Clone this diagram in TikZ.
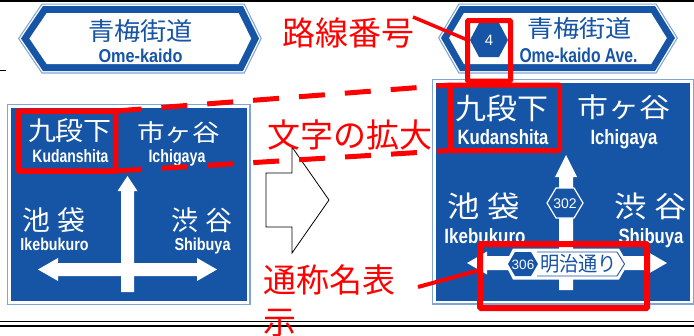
\documentclass[tikz,border=0pt]{standalone}
\usepackage{fontspec}
\usepackage{graphicx}
\newfontfamily\jp{Noto Sans CJK JP}
\newfontfamily\lat{Liberation Sans}
\definecolor{signblue}{HTML}{1654A6}
\definecolor{edgeblue}{HTML}{7FA4D8}
\definecolor{redmark}{HTML}{FF0000}
\newcommand\fitL[3]{\resizebox{#1pt}{#2pt}{\lat\bfseries #3}}
\newcommand\fitJ[3]{\resizebox*{#1pt}{#2pt}{\jp #3}}
\begin{document}
\begin{tikzpicture}[x=1pt,y=-1pt,
  txt/.style={inner sep=0pt,outer sep=0pt},
  btxt/.style={inner sep=0pt,outer sep=0pt,text=signblue},
  wtxt/.style={inner sep=0pt,outer sep=0pt,text=white},
  numtxt/.style={inner sep=0pt,outer sep=0pt,text=white,font=\lat\fontsize{14}{16}\selectfont},
  edgeA/.style={draw=edgeblue,line width=5pt,line join=miter},
  edgeB/.style={draw=white,line width=2.6pt,line join=miter},
  edgeC/.style={draw=edgeblue,line width=8pt},
  edgeD/.style={draw=white,line width=5.6pt},
  redbox/.style={draw=redmark,line width=5pt,rounded corners=1pt},
  redline/.style={draw=redmark,line width=4pt},
  reddash/.style={draw=redmark,line width=5pt,dash pattern=on 26pt off 20pt},
  redlabel/.style={inner sep=0pt,outer sep=0pt,text=redmark,font=\jp\fontsize{33}{40}\selectfont},
]
\useasboundingbox (0,0) rectangle (694,335);
\clip (0,0) rectangle (694,335);

% table rules
\draw[line width=1.8pt] (0,1) -- (694,1);
\draw[line width=1.6pt] (0,321.5) -- (694,321.5);
\draw[line width=1.2pt] (0,326) -- (694,326);
\draw[line width=1pt] (0,70) -- (6,70);

% ---------- left top sign ----------
\path[edgeA] (21,38.5)--(43,6)--(243,6)--(259,38.5)--(243,71)--(43,71)--cycle;
\path[edgeB] (21,38.5)--(43,6)--(243,6)--(259,38.5)--(243,71)--(43,71)--cycle;
\fill[signblue] (21,38.5)--(43,6)--(243,6)--(259,38.5)--(243,71)--(43,71)--cycle;
\fill[white] (29.4,38.5)--(46.7,13)--(238.6,13)--(251.2,38.5)--(238.6,64)--(46.7,64)--cycle;
\node[btxt] (t1jp) at (140.5,31) {\fitJ{105}{23}{青梅街道}};
\node[btxt,anchor=base] (t1en) at (140.5,62) {\fitL{84}{13.5}{Ome-kaido}};

% ---------- right top sign ----------
\path[edgeA] (441,38)--(460,6)--(655,6)--(675,38)--(655,71)--(460,71)--cycle;
\path[edgeB] (441,38)--(460,6)--(655,6)--(675,38)--(655,71)--(460,71)--cycle;
\fill[signblue] (441,38)--(460,6)--(655,6)--(675,38)--(655,71)--(460,71)--cycle;
\fill[white] (449.1,38)--(463.9,13)--(651.2,13)--(666.8,38)--(651.2,64)--(463.9,64)--cycle;
\fill[signblue] (470,40)--(479,23)--(499,23)--(508,40)--(499,57)--(479,57)--cycle;
\node[wtxt,font=\lat\fontsize{15}{18}\selectfont] (r4) at (489,40) {4};
\node[btxt] (t2jp) at (579.5,28) {\fitJ{105}{22}{青梅街道}};
\node[btxt,anchor=base] (t2en) at (578.5,62) {\fitL{118}{14.5}{Ome-kaido Ave.}};

% ---------- left big sign ----------
\path[edgeC] (10.5,107.5) rectangle (246.5,301);
\path[edgeD] (10.5,107.5) rectangle (246.5,301);
\fill[signblue] (10.5,107.5) rectangle (246.5,301);
\fill[white] (127.5,176)--(137.5,191)--(134,191)--(134,292)--(121,292)--(121,191)--(117.5,191)--cycle;
\fill[white] (38,269.5)--(58,258)--(58,263)--(197,263)--(197,258)--(217,269.5)--(197,281)--(197,276)--(58,276)--(58,281)--cycle;
\node[wtxt] (l1jp) at (70,131) {\fitJ{84}{24}{九段下}};
\node[wtxt] (l2jp) at (178.5,132) {\fitJ{83}{22}{市ヶ谷}};
\node[wtxt] (l3jp) at (54,220.5) {\fitJ{62}{25}{池 袋}};
\node[wtxt] (l4jp) at (202,220.5) {\fitJ{60}{25}{渋 谷}};
\node[wtxt,anchor=base] (l1en) at (70.5,162) {\fitL{76}{13}{Kudanshita}};
\node[wtxt,anchor=base] (l2en) at (177,162) {\fitL{57}{13}{Ichigaya}};
\node[wtxt,anchor=base] (l3en) at (54.5,250) {\fitL{68}{12.5}{Ikebukuro}};
\node[wtxt,anchor=base] (l4en) at (202.5,250) {\fitL{56}{12.5}{Shibuya}};

% ---------- right big sign ----------
\path[edgeC] (436,83) rectangle (690,300.5);
\path[edgeD] (436,83) rectangle (690,300.5);
\fill[signblue] (436,83) rectangle (690,300.5);
\fill[white] (566,155)--(577,177)--(573,177)--(573,290)--(559,290)--(559,177)--(555,177)--cycle;
\fill[white] (467,263)--(487,251.5)--(487,256)--(647,256)--(647,251.5)--(667,263)--(647,274.5)--(647,270)--(487,270)--(487,274.5)--cycle;
\path[fill=signblue,draw=white,line width=1.2pt] (547,203)--(556,188)--(574,188)--(583,203)--(574,218)--(556,218)--cycle;
\node[numtxt] (h302) at (565,203.5) {302};
\fill[white] (505,264)--(513,248.5)--(619,248.5)--(628,264)--(619,279.5)--(513,279.5)--cycle;
\draw[signblue,line width=0.9pt] (537,252)--(617,252)--(624.5,264)--(617,276)--(537,276);
\fill[signblue] (508,264)--(515,252)--(531,252)--(538,264)--(531,276)--(515,276)--cycle;
\node[numtxt,font=\lat\fontsize{13.5}{16}\selectfont] (h306) at (523,264.5) {306};
\node[btxt] (meiji) at (578.5,264) {\fitJ{77}{19}{明治通り}};
\node[wtxt] (r1jp) at (501.5,108.5) {\fitJ{93}{27}{九段下}};
\node[wtxt] (r2jp) at (623.5,107.5) {\fitJ{93}{25}{市ヶ谷}};
\node[wtxt] (r3jp) at (484,206.5) {\fitJ{72}{27}{池 袋}};
\node[wtxt] (r4jp) at (651,206.5) {\fitJ{72}{27}{渋 谷}};
\node[wtxt,anchor=base] (r1en) at (503,144) {\fitL{91}{15}{Kudanshita}};
\node[wtxt,anchor=base] (r2en) at (624,144) {\fitL{67}{15}{Ichigaya}};
\node[wtxt,anchor=base] (r3en) at (485,243) {\fitL{81}{15}{Ikebukuro}};
\node[wtxt,anchor=base] (r4en) at (651,243) {\fitL{65}{15}{Shibuya}};

% ---------- open arrow ----------
\draw[line width=0.8pt,fill=white,line join=miter] (266,173)--(292,173)--(292,147)--(329,200)--(292,253)--(292,227)--(266,227)--cycle;

% ---------- red marks ----------
\coordinate (lbTR) at (115.5,111);
\coordinate (lbBR) at (115.5,171);
\coordinate (rbTL) at (450.5,85);
\coordinate (rbBL) at (450.5,150.5);
\coordinate (numL) at (467.5,40);
\coordinate (plateL) at (480,270);
\draw[redbox,line width=5.5pt] (18,111) rectangle (lbBR);
\draw[redbox] (rbTL) rectangle (559.5,150.5);
\draw[redbox] (467.5,20.5) rectangle (510.5,81);
\draw[redbox,line width=6pt] (480,244) rectangle (647,308);
\draw[reddash] (lbTR) -- (rbTL);
\draw[reddash] (lbBR) -- (rbBL);

\node[redlabel] (lab1) at (348,33) {路線番号};
\node[redlabel] (lab2) at (349.5,135) {文字の拡大};
\node[redlabel,anchor=base west] (lab3) at (263.5,292.5) {通称名表};
\node[redlabel,anchor=base west] (lab3b) at (263.5,334.5) {示};
\coordinate (lab1end) at (413,17);
\coordinate (lab3end) at (418,287);
\draw[redline,line width=3.5pt] (lab1end) -- (numL);
\draw[redline] (lab3end) -- (plateL);
\end{tikzpicture}
\end{document}
